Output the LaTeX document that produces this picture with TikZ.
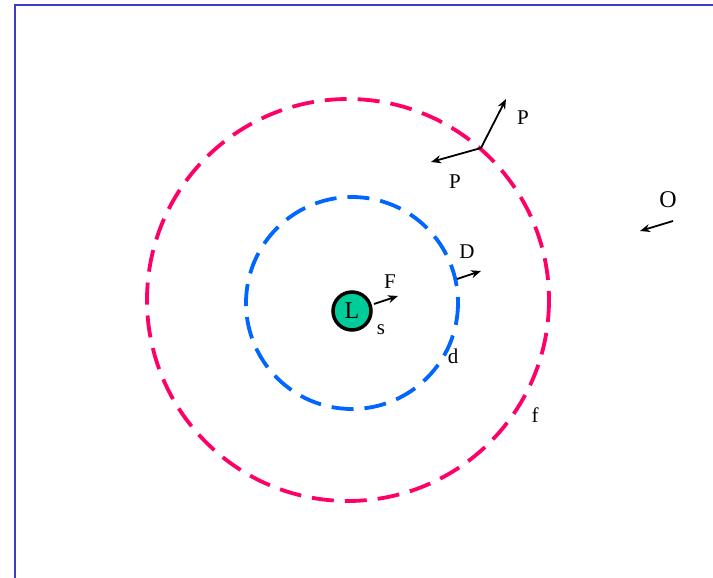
\documentclass[tikz,border=0pt]{standalone}
\usepackage{fontspec}
\setmainfont{Liberation Serif}
\usetikzlibrary{arrows.meta}
\definecolor{ringred}{RGB}{255,0,102}
\definecolor{ringblue}{RGB}{0,102,255}
\definecolor{frameblue}{RGB}{60,60,200}
\definecolor{tealfill}{RGB}{0,204,153}
\begin{document}
\begin{tikzpicture}[x=1pt,y=-1pt,
  vec/.style={draw=black,line width=1.8pt,-{Stealth[length=10pt,width=8pt]}},
  lab/.style={font=\fontsize{21}{21}\selectfont,inner sep=0pt},
  ring/.style={line width=3.8pt,dash pattern=on 22pt off 11pt}]
\useasboundingbox (0,0) rectangle (713,578);
\draw[frameblue,line width=1.6pt] (15,590) -- (15,5) -- (720,5);
\coordinate (c0) at (348,300);
\coordinate (c1) at (352,303);
\draw[ring,ringred] (c0) circle[radius=201];
\draw[ring,ringblue] (c1) circle[radius=106];
\node[circle,draw=black,line width=3.5pt,fill=tealfill,minimum size=38pt,inner sep=0pt,font=\fontsize{24}{24}\selectfont] (L) at (352,311) {L};
\node[lab] (s) at (381,330) {s};
\coordinate (Fs) at (374,304);
\coordinate (Fe) at (398,296);
\draw[vec] (Fs) -- (Fe);
\node[lab] (F) at (390,282) {F};
\coordinate (Ds) at (457,279);
\coordinate (De) at (481,271);
\draw[vec] (Ds) -- (De);
\node[lab] (D) at (467,252) {D};
\node[lab] (d) at (453,356) {d};
\node[lab] (f) at (535,415) {f};
\coordinate (Ps) at (481,148);
\coordinate (P1e) at (506,99);
\coordinate (P2e) at (431,162);
\draw[vec] (Ps) -- (P1e);
\draw[vec] (Ps) -- (P2e);
\node[lab] (P1) at (523,118) {P};
\node[lab] (P2) at (455,182) {P};
\node[lab,font=\fontsize{24}{24}\selectfont] (O) at (668,200) {O};
\coordinate (Os) at (673,221);
\coordinate (Oe) at (640,231);
\draw[vec] (Os) -- (Oe);
\end{tikzpicture}
\end{document}
